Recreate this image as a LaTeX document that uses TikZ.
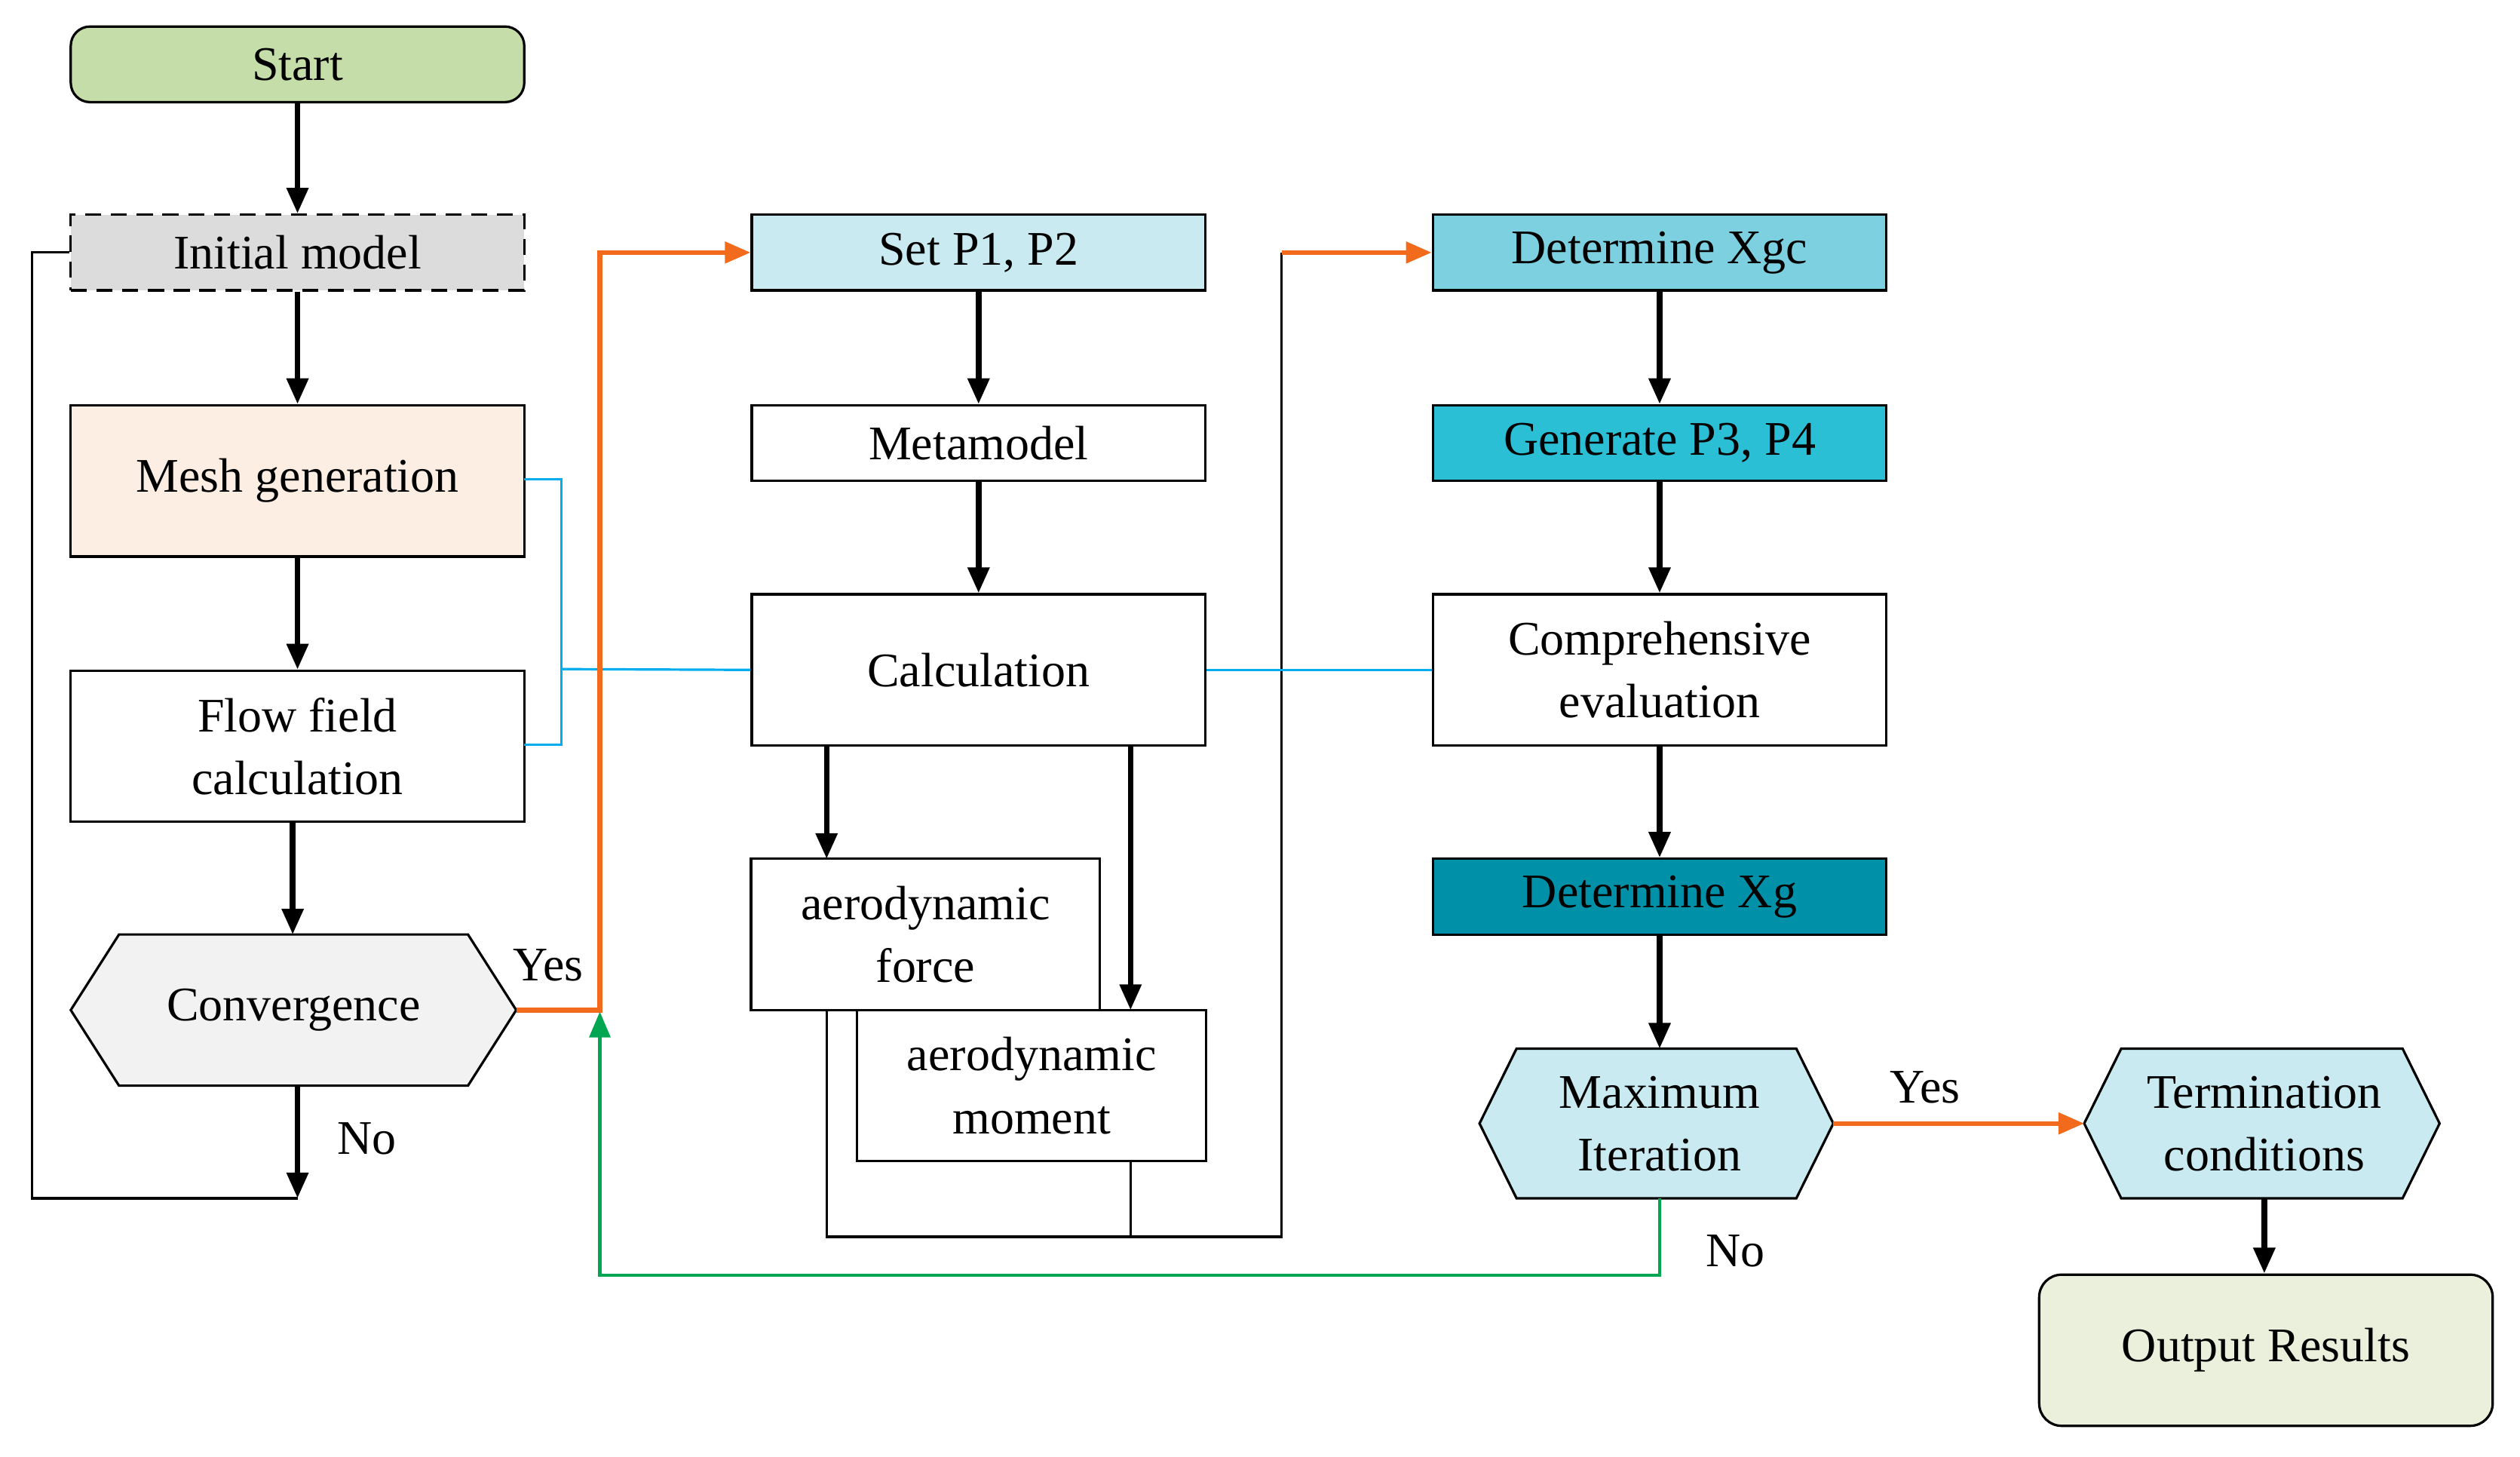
\documentclass[tikz,border=0pt]{standalone}
\usepackage{fontspec}
\setmainfont{Liberation Serif}
\usetikzlibrary{arrows.meta}
\definecolor{cblue}{HTML}{00AEEF}
\definecolor{corange}{HTML}{F26B1D}
\definecolor{cgreen}{HTML}{00A651}
\begin{document}
\begin{tikzpicture}[x=1pt,y=-1pt,
 box/.style={draw,line width=1.5pt,minimum width=282pt,minimum height=47pt,inner sep=0pt,align=center,font=\fontsize{30}{39}\selectfont},
 tall/.style={box,minimum height=94pt},
 txt/.style={font=\fontsize{30}{39}\selectfont,inner sep=0pt},
 arr/.style={line width=3.5pt,-{Triangle[length=16pt,width=13pt]}},
 thin/.style={line width=1.5pt},
 oarr/.style={draw=corange,line width=3pt,-{Triangle[length=16pt,width=13pt]}},
]
\useasboundingbox (0,0) rectangle (1567,905.5);
\node[box,rounded corners=12pt,fill={rgb,255:red,197;green,221;blue,168}] (start) at (185,40) {Start};
\node[box,dash pattern=on 10pt off 6pt,fill={rgb,255:red,220;green,220;blue,220}] (init) at (185,157) {Initial model};
\node[tall,fill={rgb,255:red,253;green,238;blue,228}] (mesh) at (185,299) {Mesh generation};
\node[tall] (flow) at (185,464) {Flow field\\calculation};
\node[txt,minimum width=277pt,minimum height=94pt] (conv) at (182.5,628) {};
\draw[thin,fill={rgb,255:red,242;green,242;blue,242}] (44,628) -- (74,581) -- (291,581) -- (321,628) -- (291,675) -- (74,675) -- cycle;
\node[txt] at (conv) {Convergence};
\node[box,fill={rgb,255:red,201;green,234;blue,241}] (set) at (608.5,157) {Set P1, P2};
\node[box] (meta) at (608.5,275.5) {Metamodel};
\node[tall] (calc) at (608.5,416.5) {Calculation};
\node[tall,minimum width=217pt] (force) at (575.5,581) {aerodynamic\\force};
\node[tall,minimum width=217pt,fill=white] (mom) at (641.5,675) {aerodynamic\\moment};
\node[box,fill={rgb,255:red,125;green,208;blue,223}] (xgc) at (1032,157) {Determine Xgc};
\node[box,fill={rgb,255:red,43;green,191;blue,214}] (gen) at (1032,275.5) {Generate P3, P4};
\node[tall] (comp) at (1032,416.5) {Comprehensive\\evaluation};
\node[box,fill={rgb,255:red,0;green,144;blue,168}] (xg) at (1032,557.5) {Determine Xg};
\node[txt,minimum width=220pt,minimum height=93pt] (max) at (1030,698.5) {};
\draw[thin,fill={rgb,255:red,201;green,234;blue,241}] (920,698.5) -- (943,652) -- (1117,652) -- (1140,698.5) -- (1117,745) -- (943,745) -- cycle;
\node[txt,align=center] at (1032,698.5) {Maximum\\Iteration};
\node[txt,minimum width=221pt,minimum height=93pt] (term) at (1406.5,698.5) {};
\draw[thin,fill={rgb,255:red,201;green,234;blue,241}] (1296,698.5) -- (1319,652) -- (1494,652) -- (1517,698.5) -- (1494,745) -- (1319,745) -- cycle;
\node[txt,align=center] at (1408,698.5) {Termination\\conditions};
\node[tall,rounded corners=14pt,fill={rgb,255:red,234;green,240;blue,220}] (out) at (1409,839.5) {Output Results};
% black arrows
\draw[arr] (start) -- (init);
\draw[arr] (init) -- (mesh);
\draw[arr] (mesh) -- (flow);
\draw[arr] (182,511) -- (182,581);
\coordinate (nob) at (185,745);
\draw[arr] (185,675) -- (nob);
\node[txt] at (228,708) {No};
\draw[thin] (nob) -- (20,745) -- (20,157) -- (init.west);
\draw[arr] (set) -- (meta);
\draw[arr] (meta) -- (calc);
\draw[arr] (514,463) -- (514,534);
\draw[arr] (703,463) -- (703,628);
\draw[thin] (514,628) -- (514,769) -- (797,769) -- (797,157);
\draw[thin] (703,722) -- (703,769);
\draw[oarr] (797,157) -- (xgc.west);
\draw[arr] (xgc) -- (gen);
\draw[arr] (gen) -- (comp);
\draw[arr] (comp) -- (xg);
\draw[arr] (xg) -- (1032,652);
\draw[arr] (1408,745) -- (out.north -| 1408,0);
% blue
\draw[cblue,thin] (326,298) -- (349,298) -- (349,463) -- (326,463);
\draw[cblue,thin] (349,416) -- (calc.west);
\draw[cblue,thin] (calc.east) -- (comp.west);
% orange
\draw[oarr] (321,628) -- (373,628) -- (373,157) -- (set.west);
\node[txt] at (341,600) {Yes};
\draw[oarr] (1140,698.5) -- (1296,698.5);
\node[txt] at (1197,676) {Yes};
% green
\draw[cgreen,line width=2pt,-{Triangle[length=16pt,width=13pt]}] (1032,745) -- (1032,793) -- (373,793) -- (373,629);
\node[txt] at (1079,778) {No};
\end{tikzpicture}
\end{document}
